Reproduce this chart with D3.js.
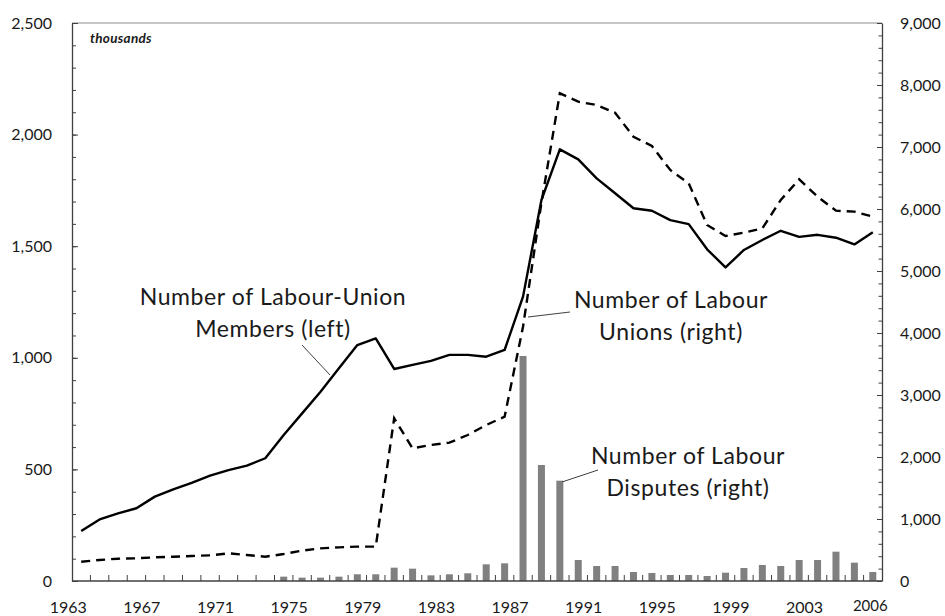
<!DOCTYPE html>
<html>
<head>
<meta charset="utf-8">
<script src="https://cdn.jsdelivr.net/npm/d3@7"></script>
<style>
  body { margin: 0; background: #fff; }
  svg text { font-family: Lato, "Open Sans", sans-serif; fill: #1a1a1a; }
</style>
</head>
<body>
<div id="chart"></div>
<script>
// years on the category axis
const years = d3.range(1963, 2007);

// Number of Labour-Union Members, thousands (left axis)
const members = [224, 276, 303, 326, 378, 411, 440, 472, 497, 517, 550, 654, 751, 848, 953,
    1057, 1087, 950, 968, 986, 1013, 1013, 1005, 1035, 1274, 1707, 1934, 1889, 1804, 1737,
    1670, 1659, 1617, 1599, 1486, 1405, 1483, 1528, 1569, 1542, 1551, 1538, 1508, 1562];

// Number of Labour Unions (right axis)
const unions = [311, 339, 360, 366, 382, 392, 403, 414, 446, 419, 392, 435, 489, 527, 543,
    554, 554, 2624, 2140, 2194, 2231, 2355, 2516, 2650, 4100, 6100, 7866, 7731, 7677, 7553,
    7166, 7016, 6629, 6414, 5742, 5565, 5618, 5688, 6145, 6479, 6199, 5973, 5957, 5876];

// Number of Labour Disputes (right axis), null = no bar
const disputes = [null, null, null, null, null, null, null, null, null, null, null, 70, 54, 54, 70,
    108, 108, 215, 199, 91, 108, 124, 269, 285, 3629, 1871, 1618, 339, 242, 242,
    145, 129, 97, 97, 81, 134, 210, 258, 242, 339, 339, 473, 296, 145];

const leftTicks = [0, 500, 1000, 1500, 2000, 2500];
const rightTicks = [0, 1000, 2000, 3000, 4000, 5000, 6000, 7000, 8000, 9000];
const yearLabels = [1963, 1967, 1971, 1975, 1979, 1983, 1987, 1991, 1995, 1999, 2003];

const W = 945, H = 616;
const margin = { top: 23, right: 63, bottom: 35, left: 72 };
const width = W - margin.left - margin.right,
    height = H - margin.top - margin.bottom;

const svg = d3.select("#chart").append("svg")
    .attr("width", W)
    .attr("height", H);

const g = svg.append("g")
    .attr("transform", `translate(${margin.left},${margin.top})`);

const x = d3.scaleBand().domain(years).range([0, width]).padding(0);
const yL = d3.scaleLinear().domain([0, 2500]).range([height, 0]);
const yR = d3.scaleLinear().domain([0, 9000]).range([height, 0]);
const bw = x.bandwidth();
const cx = d => x(d) + bw / 2;

// top frame line
g.append("line")
    .attr("x1", 0).attr("x2", width)
    .attr("y1", 0).attr("y2", 0)
    .attr("stroke", "#8c8c8c")
    .attr("stroke-width", 1.2);

// left axis: minor ticks, then major ticks with labels
g.append("g")
    .call(d3.axisLeft(yL).tickValues(d3.range(0, 2501, 100)).tickSize(-4).tickFormat(""))
    .call(a => a.select(".domain").remove())
    .selectAll("line").attr("stroke", "#404040");

const leftAxis = g.append("g")
    .call(d3.axisLeft(yL).tickValues(leftTicks).tickSize(-6).tickSizeOuter(0)
        .tickPadding(20).tickFormat(d3.format(",")));
leftAxis.select(".domain").attr("stroke", "#404040").attr("stroke-width", 1.3);
leftAxis.selectAll("line").attr("stroke", "#404040");
leftAxis.selectAll("text").style("font-size", "16px").attr("fill", "#1a1a1a");

// right axis
g.append("g")
    .attr("transform", `translate(${width},0)`)
    .call(d3.axisRight(yR).tickValues(d3.range(0, 9001, 200)).tickSize(-3.5).tickFormat(""))
    .call(a => a.select(".domain").remove())
    .selectAll("line").attr("stroke", "#404040");

const rightAxis = g.append("g")
    .attr("transform", `translate(${width},0)`)
    .call(d3.axisRight(yR).tickValues(rightTicks).tickSize(-5).tickSizeOuter(0)
        .tickPadding(18).tickFormat(d3.format(",")));
rightAxis.select(".domain").attr("stroke", "#404040").attr("stroke-width", 1.3);
rightAxis.selectAll("line").attr("stroke", "#404040");
rightAxis.selectAll("text").style("font-size", "16px").attr("fill", "#1a1a1a");

// bars: labour disputes
g.selectAll(".bar")
    .data(years.map((yr, i) => ({ year: yr, v: disputes[i] })).filter(d => d.v != null))
    .enter().append("rect")
    .attr("class", "bar")
    .attr("x", d => cx(d.year) - 3.5)
    .attr("width", 7)
    .attr("y", d => yR(d.v))
    .attr("height", d => height - yR(d.v))
    .attr("fill", "#808080");

// x axis baseline and category ticks
g.append("line")
    .attr("x1", 0).attr("x2", width)
    .attr("y1", height).attr("y2", height)
    .attr("stroke", "#404040")
    .attr("stroke-width", 1.3);

g.selectAll(".xtick")
    .data(years.slice(1))
    .enter().append("line")
    .attr("class", "xtick")
    .attr("x1", d => x(d)).attr("x2", d => x(d))
    .attr("y1", height).attr("y2", height - 6)
    .attr("stroke", "#404040");

g.selectAll(".xlabel")
    .data(yearLabels)
    .enter().append("text")
    .attr("class", "xlabel")
    .attr("x", d => cx(d) - 13)
    .attr("y", height + 32)
    .attr("text-anchor", "middle")
    .style("font-size", "16px")
    .text(d => d);

g.append("text")
    .attr("x", cx(2006) - 2.5)
    .attr("y", height + 30)
    .attr("text-anchor", "middle")
    .style("font-size", "15px")
    .text("2006");

// lines
const lineL = d3.line().x((d, i) => cx(years[i])).y(d => yL(d));
const lineR = d3.line().x((d, i) => cx(years[i])).y(d => yR(d));

g.append("path")
    .datum(unions)
    .attr("d", lineR)
    .attr("fill", "none")
    .attr("stroke", "#000")
    .attr("stroke-width", 2.4)
    .attr("stroke-dasharray", "9,6");

g.append("path")
    .datum(members)
    .attr("d", lineL)
    .attr("fill", "none")
    .attr("stroke", "#000")
    .attr("stroke-width", 2.4)
    .attr("stroke-linejoin", "round");

// units note
svg.append("text")
    .attr("x", 90).attr("y", 43)
    .style("font-size", "13.5px")
    .style("font-weight", "bold")
    .style("font-style", "italic")
    .style("letter-spacing", "0.3px")
    .text("thousands");

// series annotations with leader lines
const notes = [
    { lines: ["Number of Labour-Union", "Members (left)"], x: 273, y: 305, from: [302, 345], to: [330, 375] },
    { lines: ["Number of Labour", "Unions (right)"], x: 671, y: 308, from: [570, 312], to: [528, 317] },
    { lines: ["Number of Labour", "Disputes (right)"], x: 688, y: 464, from: [598, 470], to: [562, 482] }
];

notes.forEach(n => {
    svg.append("line")
        .attr("x1", n.from[0]).attr("y1", n.from[1])
        .attr("x2", n.to[0]).attr("y2", n.to[1])
        .attr("stroke", "#404040")
        .attr("stroke-width", 1);
    const t = svg.append("text")
        .attr("text-anchor", "middle")
        .style("font-size", "23px")
        .style("letter-spacing", "0.6px");
    n.lines.forEach((s, i) => {
        t.append("tspan").attr("x", n.x).attr("y", n.y + i * 32).text(s);
    });
});
</script>
</body>
</html>
